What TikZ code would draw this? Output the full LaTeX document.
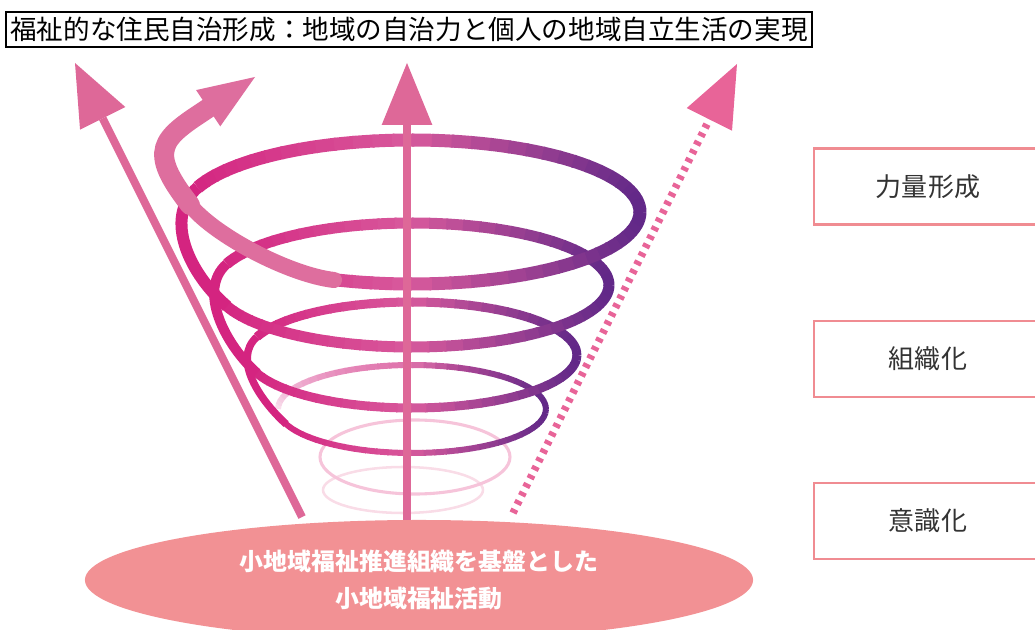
\documentclass[tikz,border=0pt]{standalone}
\usepackage{fontspec}
\setmainfont{Noto Sans CJK JP}
\usetikzlibrary{arrows.meta,shapes.geometric}

\definecolor{ringmag}{RGB}{212,36,128}
\definecolor{ringpink}{RGB}{216,90,156}
\definecolor{ringpur}{RGB}{98,40,136}
\definecolor{arrowpink}{RGB}{222,104,152}
\definecolor{bandpink}{RGB}{222,110,158}
\definecolor{dashpink}{RGB}{232,100,152}
\definecolor{echopink}{RGB}{246,196,218}
\definecolor{echopale}{RGB}{249,220,231}
\definecolor{basefill}{RGB}{242,145,148}
\definecolor{boxline}{RGB}{240,140,146}
\definecolor{labelgray}{RGB}{51,51,51}

\begin{document}
\begin{tikzpicture}[
  x=0.025cm, y=-0.025cm,
  shaft/.style={arrowpink, line width=5.7pt, -{Triangle[length=44pt,width=36pt,line width=0pt]}},
  dashshaft/.style={shaft, dashpink, line width=5.4pt, dash pattern=on 3pt off 3.8pt},
  band/.style={bandpink, line cap=round},
  titlebox/.style={draw, line width=1pt, inner xsep=3pt, inner ysep=0pt, minimum height=0.875cm,
    font=\fontsize{18.9pt}{21pt}\selectfont},
  stagebox/.style={draw=boxline, line width=2.1pt, minimum width=5.7cm, minimum height=1.9cm,
    text=labelgray, font=\fontsize{18.5pt}{21pt}\selectfont},
  basering/.style={ellipse, fill=basefill, minimum width=16.7cm, minimum height=3cm, inner sep=0pt,
    align=center, text=white, font=\bfseries\fontsize{17pt}{27pt}\selectfont}
]
  \useasboundingbox (0,0) rectangle (1035,630);
  \clip (0,0) rectangle (1035,630);

  % faint rings at the foot of the spiral
  \draw[echopale, line width=1.8pt] (403,490) ellipse [x radius=80, y radius=23];
  \draw[echopink, line width=2.2pt] (415,457) ellipse [x radius=95, y radius=37];

  % spiral turns, bottom up: start angle / centre y / radii / band width / end angle
  \foreach \s/\cy/\rx/\ry/\w/\e [count=\i,
      remember=\cy as \pcy (initially 0), remember=\rx as \prx (initially 0),
      remember=\ry as \pry (initially 0), remember=\w as \pw (initially 0)]
    in {180/409/134/44/6/520, 200/355/165/53/9/520, 200/285/197/62/11/520, 200/212/228/72/13/470} {
    \ifnum\i>1
      % climb on the left from the turn below
      \draw[ringmag, line width={(\pw+\w)/2*0.7113pt}]
        ({412+\prx*cos(520)}, {\pcy+\pry*sin(520)})
        .. controls ({412+\prx*cos(520)-0.55*\prx*sin(520)}, {\pcy+\pry*sin(520)+0.55*\pry*cos(520)})
        and ({412+\rx*cos(200)+0.45*\rx*sin(200)}, {\cy+\ry*sin(200)-0.45*\ry*cos(200)})
        .. ({412+\rx*cos(200)}, {\cy+\ry*sin(200)});
    \fi
    \pgfmathtruncatemacro\sn{\s+5}
    \pgfmathtruncatemacro\last{\e-5}
    \foreach \a in {\s,\sn,...,\last} {
      \pgfmathtruncatemacro\mixa{min(100,100*(1+cos(\a+2.5)))}
      \pgfmathtruncatemacro\mixc{100-max(0,100*cos(\a+2.5))}
      \pgfmathtruncatemacro\fade{\i==1 ? min(100,15+(\a-180)*0.8) : 100}
      \draw[line width=\w*0.7113pt, color=ringpink!\mixa!ringmag!\mixc!ringpur!\fade!white]
        ({412+\rx*cos(\a)}, {\cy+\ry*sin(\a)})
        arc[start angle=\a, end angle=\a+5.6, x radius=\rx, y radius=\ry];
    }
  }

  % last turn swings out into the curled arrow
  \draw[band, line width=11.4pt] (334,280) .. controls (290,275) and (215,236) .. (190,205);
  \draw[band, line width=14.2pt, -{Triangle[length=40pt,width=31pt,line width=0pt]}]
    (190,205) .. controls (147,150) and (161,139) .. (207,109) -- (255,77);

  % straight arrows
  \coordinate (leftfoot) at (302,517);
  \coordinate (lefttip) at (75,63);
  \coordinate (axisfoot) at (407,522);
  \coordinate (axistip) at (407,63);
  \coordinate (dashfoot) at (513,513);
  \coordinate (dashtip) at (737,64);
  \draw[shaft] (leftfoot) -- (lefttip);
  \draw[shaft] (axisfoot) -- (axistip);
  \draw[dashshaft] (dashfoot) -- (dashtip);

  \node[basering] (base) at (419,580) {小地域福祉推進組織を基盤とした\\小地域福祉活動};

  \node[titlebox] (title) at (409,29.5) {福祉的な住民自治形成：地域の自治力と個人の地域自立生活の実現};

  \node[stagebox] (power) at (928,186.5) {力量形成};
  \node[stagebox] (organize) at (928,359) {組織化};
  \node[stagebox] (aware) at (928,521) {意識化};
\end{tikzpicture}
\end{document}
